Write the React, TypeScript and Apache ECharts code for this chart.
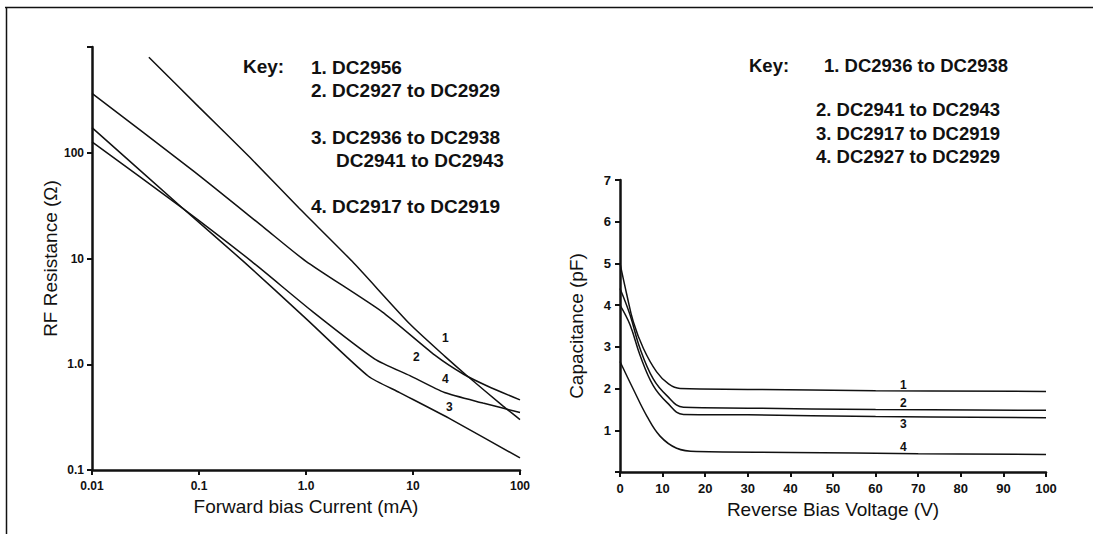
import React, { useEffect, useRef } from "react";
import * as echarts from "echarts";

// Left chart: RF resistance (Ω) vs forward bias current (mA), log-log
const rfCurve1: [number, number][] = [[0.034, 800], [0.1, 270], [0.3, 90], [0.86, 30], [2.7, 9.4], [9.35, 2.4], [20, 1.18], [31, 0.8], [70, 0.4], [100, 0.3]];
const rfCurve2: [number, number][] = [[0.01, 365], [0.089, 67], [0.41, 19.4], [1.0, 9.4], [5.15, 3.13], [16, 1.22], [30, 0.8], [50, 0.62], [100, 0.46]];
const rfCurve3: [number, number][] = [[0.01, 173], [0.07, 30], [0.26, 9.4], [1.0, 2.7], [3.83, 0.77], [7.5, 0.54], [22.9, 0.3], [100, 0.13]];
const rfCurve4: [number, number][] = [[0.01, 127], [0.07, 30], [0.31, 9.4], [1.16, 3.13], [4.4, 1.12], [9.35, 0.78], [19.7, 0.54], [45, 0.43], [100, 0.35]];

// Right chart: capacitance (pF) vs reverse bias voltage (V)
const capCurve1: [number, number][] = [[0, 5.0], [1.6, 4.25], [3.1, 3.61], [5.5, 2.96], [8.6, 2.4], [11.4, 2.11], [14.1, 2.0], [30, 1.98], [60, 1.95], [100, 1.93]];
const capCurve2: [number, number][] = [[0, 4.4], [2.35, 3.77], [4.7, 2.96], [7.8, 2.23], [11, 1.83], [14.9, 1.55], [30, 1.53], [60, 1.5], [100, 1.48]];
const capCurve3: [number, number][] = [[0, 4.0], [2.35, 3.53], [4.7, 2.8], [7.8, 2.07], [11, 1.67], [14.9, 1.38], [30, 1.37], [60, 1.33], [100, 1.3]];
const capCurve4: [number, number][] = [[0, 2.65], [3.1, 1.99], [6.3, 1.34], [9.4, 0.86], [13.3, 0.57], [18, 0.49], [40, 0.47], [70, 0.44], [100, 0.42]];

const leftKey = ["1. DC2956", "2. DC2927 to DC2929", "3. DC2936 to DC2938", "DC2941 to DC2943", "4. DC2917 to DC2919"];
const rightKey = ["1. DC2936 to DC2938", "2. DC2941 to DC2943", "3. DC2917 to DC2919", "4. DC2927 to DC2929"];

const INK = "#111";
const FONT = "'Liberation Sans', Arial, Helvetica, sans-serif";

export default function App() {
  const ref = useRef<HTMLDivElement>(null);
  useEffect(() => {
    if (!ref.current) return;
    const chart = echarts.init(ref.current, undefined, { renderer: "svg" });
    const lineSeries = (data: [number, number][], xi: number, smooth: number) => ({
      type: "line",
      xAxisIndex: xi,
      yAxisIndex: xi,
      data,
      showSymbol: false,
      smooth,
      lineStyle: { color: INK, width: 1.5 },
      silent: true,
    });
    const keyStyle = { font: `bold 19px ${FONT}`, fill: INK };
    const keyStyleR = { font: `bold 18.5px ${FONT}`, fill: INK };
    const numStyle = { font: `bold 12px ${FONT}`, fill: INK };
    const txt = (x: number, y: number, text: string, style: any) => ({
      type: "text",
      x,
      y,
      style: { ...style, text, textVerticalAlign: "middle" },
    });
    chart.setOption({
      animation: false,
      backgroundColor: "#fff",
      textStyle: { fontFamily: FONT },
      grid: [
        { left: 92, top: 47, width: 428, height: 423 },
        { left: 620, top: 180, width: 426, height: 292 },
      ],
      xAxis: [
        {
          type: "log",
          gridIndex: 0,
          min: 0.01,
          max: 100,
          logBase: 10,
          name: "Forward bias Current (mA)",
          nameLocation: "middle",
          nameGap: 19,
          nameTextStyle: { fontSize: 19, color: INK, fontFamily: FONT },
          axisLine: { lineStyle: { color: INK, width: 2.5 } },
          axisTick: { inside: false, length: 5, lineStyle: { color: INK, width: 2 } },
          axisLabel: {
            color: INK,
            fontSize: 12,
            fontWeight: "bold",
            margin: 10,
            formatter: (v: number) => (v === 1 ? "1.0" : String(v)),
          },
          splitLine: { show: false },
          minorTick: { show: false },
        },
        {
          type: "value",
          gridIndex: 1,
          min: 0,
          max: 100,
          interval: 10,
          name: "Reverse Bias Voltage (V)",
          nameLocation: "middle",
          nameGap: 22,
          nameTextStyle: { fontSize: 19, color: INK, fontFamily: FONT },
          axisLine: { lineStyle: { color: INK, width: 2.5 } },
          axisTick: { inside: false, length: 5, lineStyle: { color: INK, width: 2 } },
          axisLabel: { color: INK, fontSize: 13, fontWeight: "bold", margin: 10 },
          splitLine: { show: false },
        },
      ],
      yAxis: [
        {
          type: "log",
          gridIndex: 0,
          min: 0.1,
          max: 1000,
          logBase: 10,
          name: "RF Resistance (Ω)",
          nameLocation: "middle",
          nameGap: 31,
          nameTextStyle: { fontSize: 19, color: INK, fontFamily: FONT },
          axisLine: { lineStyle: { color: INK, width: 2.5 } },
          axisTick: { length: 5, lineStyle: { color: INK, width: 2 } },
          axisLabel: {
            color: INK,
            fontSize: 12,
            fontWeight: "bold",
            margin: 8,
            formatter: (v: number) => (v >= 1000 ? "" : v === 1 ? "1.0" : String(v)),
          },
          splitLine: { show: false },
          minorTick: { show: false },
        },
        {
          type: "value",
          gridIndex: 1,
          min: 0,
          max: 7,
          interval: 1,
          name: "Capacitance (pF)",
          nameLocation: "middle",
          nameGap: 34,
          nameTextStyle: { fontSize: 19, color: INK, fontFamily: FONT },
          axisLine: { lineStyle: { color: INK, width: 2.5 } },
          axisTick: { length: 5, lineStyle: { color: INK, width: 2 } },
          axisLabel: {
            color: INK,
            fontSize: 13,
            fontWeight: "bold",
            margin: 9,
            formatter: (v: number) => (v === 0 ? "" : String(v)),
          },
          splitLine: { show: false },
        },
      ],
      series: [
        lineSeries(rfCurve1, 0, 0.2),
        lineSeries(rfCurve2, 0, 0.2),
        lineSeries(rfCurve3, 0, 0.2),
        lineSeries(rfCurve4, 0, 0.2),
        lineSeries(capCurve1, 1, 0.4),
        lineSeries(capCurve2, 1, 0.4),
        lineSeries(capCurve3, 1, 0.4),
        lineSeries(capCurve4, 1, 0.4),
      ],
      graphic: [
        { type: "line", shape: { x1: 5, y1: 7.5, x2: 1093, y2: 7.5 }, style: { stroke: INK, lineWidth: 1.5 } },
        { type: "line", shape: { x1: 6.5, y1: 7, x2: 6.5, y2: 534 }, style: { stroke: INK, lineWidth: 1.5 } },
        txt(243, 66, "Key:", keyStyle),
        txt(311, 67, leftKey[0], keyStyle),
        txt(311, 90, leftKey[1], keyStyle),
        txt(311, 137, leftKey[2], keyStyle),
        txt(336, 160, leftKey[3], keyStyle),
        txt(311, 206, leftKey[4], keyStyle),
        txt(749, 65, "Key:", keyStyleR),
        txt(824, 65, rightKey[0], keyStyleR),
        txt(816, 109, rightKey[1], keyStyleR),
        txt(816, 133, rightKey[2], keyStyleR),
        txt(816, 156, rightKey[3], keyStyleR),
        txt(442, 338, "1", numStyle),
        txt(413, 357, "2", numStyle),
        txt(442, 379, "4", numStyle),
        txt(446, 407, "3", numStyle),
        txt(900, 385, "1", numStyle),
        txt(900, 403, "2", numStyle),
        txt(900, 424, "3", numStyle),
        txt(900, 447, "4", numStyle),
      ],
    });
    return () => chart.dispose();
  }, []);
  return (
    <div
      ref={ref}
      style={{ position: "fixed", left: 0, top: 0, width: 1093, height: 534, background: "#fff" }}
    />
  );
}
